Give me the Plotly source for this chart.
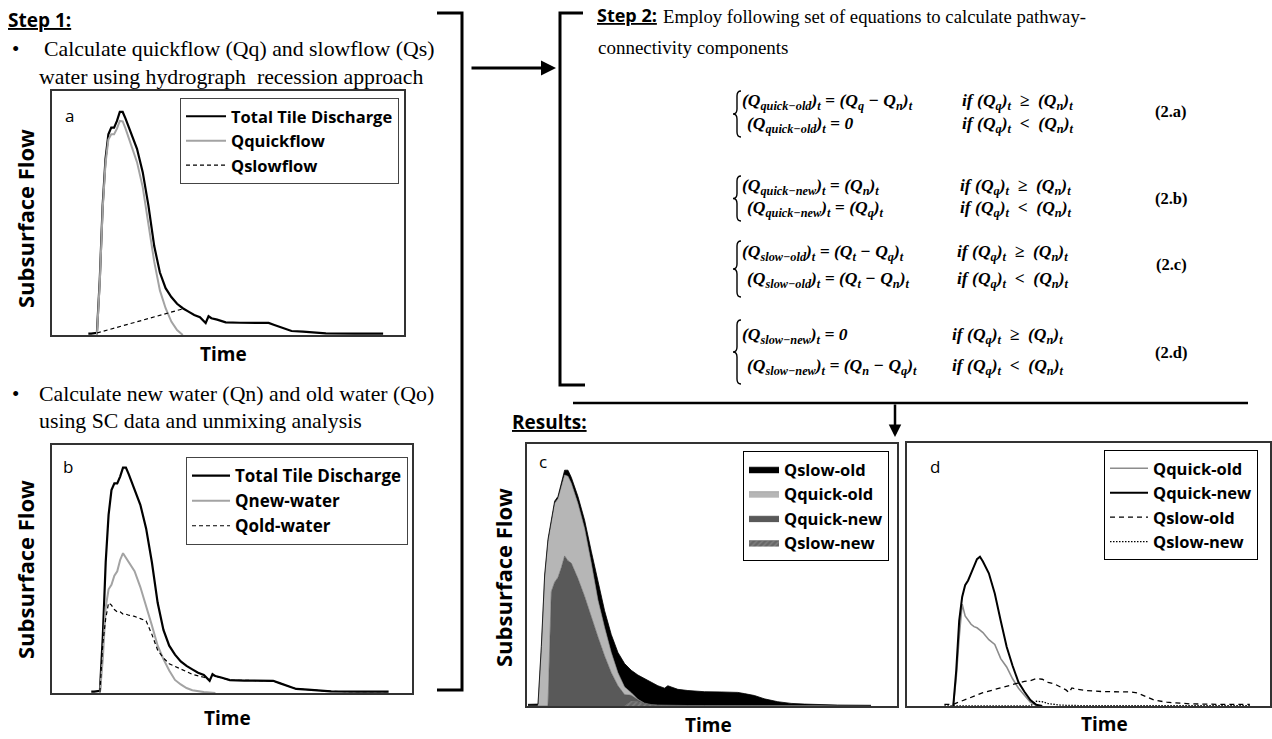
import plotly.graph_objects as go

W, H = 1272, 739

# ---------------- data (time in hours from start of event, flow relative to peak) ----------------
T = [-3, -2, 0, 1, 2, 3, 4, 5, 6, 7, 8, 9, 10, 12, 14, 16, 18, 20, 22, 24, 26, 28, 30, 32,
     34, 36, 38, 39, 40, 42, 45, 50, 55, 60, 62, 65, 68, 72, 76, 80, 90, 100]

total_flow = [0.006, 0.006, 0.01, 0.25, 0.58, 0.79, 0.90, 0.93, 0.93, 0.96,
              1.0, 1.0, 0.97, 0.90, 0.835, 0.73, 0.58, 0.40, 0.28, 0.21,
              0.17, 0.14, 0.12, 0.105, 0.09, 0.08, 0.054, 0.084, 0.075, 0.069,
              0.057, 0.055, 0.054, 0.054, 0.045, 0.031, 0.018, 0.015, 0.01, 0.007,
              0.006, 0.006]

quickflow = [None, None, 0.0, 0.236, 0.563, 0.77, 0.876, 0.90, 0.90, 0.925,
             0.96, 0.958, 0.925, 0.848, 0.775, 0.663, 0.506, 0.33, 0.20, 0.12,
             0.06, 0.022, 0.0] + [None] * 19

slowflow_t = [0, 30]
slowflow = [0.009, 0.117]

new_water = [None, None, 0.0, 0.15, 0.38, 0.46, 0.48, 0.52, 0.54, 0.59,
             0.62, 0.60, 0.585, 0.54, 0.47, 0.39, 0.30, 0.21, 0.15, 0.10,
             0.058, 0.038, 0.022, 0.012, 0.007, 0.004, 0.002, 0.001, 0.0] + [None] * 13

old_water = [None, None, 0.005, 0.22, 0.33, 0.40, 0.39, 0.37, 0.36, 0.36,
             0.35, 0.35, 0.345, 0.34, 0.33, 0.32, 0.26, 0.19, 0.155, 0.13,
             0.118, 0.108, 0.095, 0.083, 0.077, 0.07, 0.056, 0.08, 0.072, 0.068,
             0.057, 0.055, 0.054, 0.054, 0.045, 0.031, 0.018, 0.015, 0.01, 0.007,
             0.006, 0.006]

slow_new = [0, 0, 0, 0, 0, 0, 0, 0, 0, 0,
            0, 0, 0, 0, 0, 0, 0, 0, 0, 0,
            0, 0.02, 0.018, 0.01, 0.006, 0.004, 0.003, 0.002, 0.002, 0.002,
            0.002, 0.002, 0.002, 0.002, 0.002, 0.002, 0.002, 0.002, 0.002, 0.002,
            0.002, 0.002]

quick_new_c = [0, 0, 0, 0, 0, 0, 0.48, 0.52, 0.54, 0.58,
               0.63, 0.61, 0.60, 0.535, 0.46, 0.37, 0.29, 0.21, 0.14, 0.085,
               0.048, 0.025, 0.008, 0.002] + [0] * 18

quick_old_c = [0, 0, 0, 0.24, 0.54, 0.69, 0.29, 0.33, 0.33, 0.345,
               0.34, 0.355, 0.335, 0.315, 0.285, 0.23, 0.155, 0.12, 0.085, 0.055,
               0.032, 0.011, 0.002] + [0] * 19

slow_old_c = [0.007, 0.007, 0.008, 0.01, 0.01, 0.01, 0.01, 0.01, 0.01, 0.015,
              0.02, 0.025, 0.025, 0.03, 0.035, 0.05, 0.075, 0.07, 0.075, 0.085,
              0.098, 0.094, 0.102, 0.103, 0.091, 0.081, 0.072, 0.083, 0.078, 0.068,
              0.063, 0.058, 0.057, 0.055, 0.05, 0.042, 0.028, 0.016, 0.009, 0.006,
              0.002, 0.001]

quick_old_d = [None, None, 0.0, 0.12, 0.29, 0.43, 0.38, 0.36, 0.345, 0.335,
               0.33, 0.32, 0.31, 0.28, 0.26, 0.20, 0.165, 0.115, 0.075, 0.045,
               0.016, 0.002] + [None] * 20

quick_new_d = [None, None, 0.0, 0.15, 0.36, 0.46, 0.51, 0.53, 0.56, 0.59,
               0.62, 0.63, 0.61, 0.56, 0.475, 0.36, 0.25, 0.17, 0.10, 0.06,
               0.025, 0.005, 0.0] + [None] * 19

slow_old_d = [0.007, 0.007, 0.007, 0.012, 0.017, 0.022, 0.027, 0.033, 0.038, 0.043,
              0.048, 0.052, 0.056, 0.063, 0.07, 0.077, 0.085, 0.092, 0.098, 0.104,
              0.107, 0.116, 0.113, 0.10, 0.094, 0.08, 0.068, 0.057, 0.076, 0.07,
              0.065, 0.061, 0.06, 0.059, 0.055, 0.04, 0.024, 0.016, 0.012, 0.009,
              0.007, 0.007]

# ---------------- helpers ----------------
def px(x):
    return x / W


def py(y):
    return 1 - y / H


def P(x, y):
    return f"{px(x):.5f},{py(y):.5f}"


SANS = "Open Sans"
SERIF = "Liberation Serif"

fig = go.Figure()

# ---- panel a
fig.add_trace(go.Scatter(x=T, y=total_flow, name="Total Tile Discharge", mode="lines",
                         line=dict(color="black", width=2.2), xaxis="x", yaxis="y", legend="legend"))
fig.add_trace(go.Scatter(x=T, y=quickflow, name="Qquickflow", mode="lines",
                         line=dict(color="#a3a3a3", width=2), xaxis="x", yaxis="y", legend="legend"))
fig.add_trace(go.Scatter(x=slowflow_t, y=slowflow, name="Qslowflow", mode="lines",
                         line=dict(color="black", width=1.2, dash="4px,3px"), xaxis="x", yaxis="y",
                         legend="legend"))

# ---- panel b
fig.add_trace(go.Scatter(x=T, y=total_flow, name="Total Tile Discharge", mode="lines",
                         line=dict(color="black", width=2.2), xaxis="x2", yaxis="y2", legend="legend2"))
fig.add_trace(go.Scatter(x=T, y=new_water, name="Qnew-water", mode="lines",
                         line=dict(color="#a3a3a3", width=2), xaxis="x2", yaxis="y2", legend="legend2"))
fig.add_trace(go.Scatter(x=T, y=old_water, name="Qold-water", mode="lines",
                         line=dict(color="black", width=1.2, dash="4px,3px"), xaxis="x2", yaxis="y2",
                         legend="legend2"))

# ---- panel c (stacked areas)
fig.add_trace(go.Scatter(x=T, y=slow_new, name="Qslow-new", mode="lines", stackgroup="c",
                         line=dict(color="#555555", width=0.5), fillcolor="#6b6b6b",
                         fillpattern=dict(shape="/", fgcolor="#9c9c9c", bgcolor="#666666", size=4, solidity=0.35),
                         xaxis="x3", yaxis="y3", legend="legend3"))
fig.add_trace(go.Scatter(x=T, y=quick_new_c, name="Qquick-new", mode="lines", stackgroup="c",
                         line=dict(color="#4a4a4a", width=0.5), fillcolor="#595959",
                         xaxis="x3", yaxis="y3", legend="legend3"))
fig.add_trace(go.Scatter(x=T, y=quick_old_c, name="Qquick-old", mode="lines", stackgroup="c",
                         line=dict(color="#8a8a8a", width=0.6), fillcolor="#b6b6b6",
                         xaxis="x3", yaxis="y3", legend="legend3"))
fig.add_trace(go.Scatter(x=T, y=slow_old_c, name="Qslow-old", mode="lines", stackgroup="c",
                         line=dict(color="black", width=0.8), fillcolor="black",
                         xaxis="x3", yaxis="y3", legend="legend3"))

# ---- panel d
fig.add_trace(go.Scatter(x=T, y=quick_old_d, name="Qquick-old", mode="lines",
                         line=dict(color="#8c8c8c", width=1.6), xaxis="x4", yaxis="y4", legend="legend4"))
fig.add_trace(go.Scatter(x=T, y=quick_new_d, name="Qquick-new", mode="lines",
                         line=dict(color="black", width=2), xaxis="x4", yaxis="y4", legend="legend4"))
fig.add_trace(go.Scatter(x=T, y=slow_old_d, name="Qslow-old", mode="lines",
                         line=dict(color="black", width=1.3, dash="5px,4px"), xaxis="x4", yaxis="y4",
                         legend="legend4"))
fig.add_trace(go.Scatter(x=T, y=slow_new, name="Qslow-new", mode="lines",
                         line=dict(color="black", width=1.3, dash="1.5px,1.5px"), xaxis="x4", yaxis="y4",
                         legend="legend4"))


def axis(dom, rng, anchor):
    return dict(domain=dom, range=rng, anchor=anchor, showline=True, mirror=True,
                linecolor="#333333", linewidth=1.6, showgrid=False, zeroline=False,
                showticklabels=False, ticks="", fixedrange=True)


def legend(x, y, size, itemwidth, order="normal", border="#444444"):
    return dict(x=px(x), y=py(y), xanchor="left", yanchor="top", bgcolor="white",
                bordercolor=border, borderwidth=1, traceorder=order, itemwidth=itemwidth,
                font=dict(family=SANS, size=size, color="black", weight="bold"))


layout = dict(
    width=W, height=H, autosize=False,
    margin=dict(l=0, r=0, t=0, b=0),
    paper_bgcolor="white", plot_bgcolor="white",
    showlegend=True,
    xaxis=axis([px(52), px(404)], [-15.7, 107.3], "y"),
    yaxis=axis([py(335), py(91)], [0, 1.094], "x"),
    xaxis2=axis([px(52), px(412)], [-16.6, 108.1], "y2"),
    yaxis2=axis([py(693), py(445)], [0, 1.10], "x2"),
    xaxis3=axis([px(527), px(897)], [-3.3, 107.8], "y3"),
    yaxis3=axis([py(706), py(444)], [0, 1.10], "x3"),
    xaxis4=axis([px(907), px(1270)], [-15.6, 106.8], "y4"),
    yaxis4=axis([py(706), py(443)], [0, 1.11], "x4"),
    legend=legend(180, 98, 16.5, 40),
    legend2=legend(186, 457, 17, 38),
    legend3=legend(743, 451, 16.5, 30, "reversed", "black"),
    legend4=legend(1104, 450, 16.5, 38, "normal", "black"),
)
fig.update_layout(**layout)

# ---------------- text ----------------
anns = []


def txt(text, x, y, size, family, xanchor="left", yanchor="middle", angle=0, color="black"):
    anns.append(dict(text=text, x=px(x), y=py(y), xref="paper", yref="paper", showarrow=False,
                     xanchor=xanchor, yanchor=yanchor, textangle=angle,
                     font=dict(size=size, family=family, color=color)))


txt("<b><u>Step 1:</u></b>", 6, 20, 19, SANS)
txt("•", 10, 49, 21, SERIF)
txt("Calculate quickflow (Qq) and slowflow (Qs)", 42, 49, 21.8, SERIF)
txt("water using hydrograph  recession approach", 37, 77, 21.8, SERIF)
txt("•", 10, 394, 21, SERIF)
txt("Calculate new water (Qn) and old water (Qo)", 37, 394, 21.8, SERIF)
txt("using SC data and unmixing analysis", 37, 421, 21.8, SERIF)

txt("<b><u>Step 2:</u></b>", 595, 15, 18, SANS)
txt("Employ following set of equations to calculate pathway-", 661, 16, 18.7, SERIF)
txt("connectivity components", 596, 47, 19, SERIF)
txt("<b><u>Results:</u></b>", 510, 422, 19, SANS)

# panel labels and axis titles
txt("a", 69, 115, 17, SANS, "center")
txt("b", 68, 466, 17, SANS, "center")
txt("c", 543, 461, 17, SANS, "center")
txt("d", 935, 466, 17, SANS, "center")
for (x, y) in [(223, 354), (228, 718), (708, 725), (1104, 724)]:
    txt("<b>Time</b>", x, y, 19, SANS, "center")
for (x, y) in [(25, 219), (25, 570), (503, 578)]:
    txt("<b>Subsurface Flow</b>", x, y, 22, SANS, "center", angle=-90)

# equations
NB = "\u00a0"
condGE = f"if (Q<sub>q</sub>)<sub>t</sub>{NB} ≥{NB} (Q<sub>n</sub>)<sub>t</sub>"
condLT = f"if (Q<sub>q</sub>)<sub>t</sub>{NB} &lt;{NB} (Q<sub>n</sub>)<sub>t</sub>"
equations = [
    ("(Q<sub>quick−old</sub>)<sub>t</sub> = (Q<sub>q</sub> − Q<sub>n</sub>)<sub>t</sub>",
     "(Q<sub>quick−old</sub>)<sub>t</sub> = 0", "(2.a)", 101, 124, 960, 112, 91, 137),
    ("(Q<sub>quick−new</sub>)<sub>t</sub> = (Q<sub>n</sub>)<sub>t</sub>",
     "(Q<sub>quick−new</sub>)<sub>t</sub> = (Q<sub>q</sub>)<sub>t</sub>", "(2.b)", 186, 209, 958, 198, 176, 221),
    ("(Q<sub>slow−old</sub>)<sub>t</sub> = (Q<sub>t</sub> − Q<sub>q</sub>)<sub>t</sub>",
     "(Q<sub>slow−old</sub>)<sub>t</sub> = (Q<sub>t</sub> − Q<sub>n</sub>)<sub>t</sub>", "(2.c)", 253, 279, 955, 264, 241, 297),
    ("(Q<sub>slow−new</sub>)<sub>t</sub> = 0",
     "(Q<sub>slow−new</sub>)<sub>t</sub> = (Q<sub>n</sub> − Q<sub>q</sub>)<sub>t</sub>", "(2.d)", 335, 366, 950, 352, 320, 384),
]
shapes = []
for l1, l2, lab, y1, y2, xc, yl, b0, b1 in equations:
    txt("<b><i>" + l1 + "</i></b>", 740, y1, 17.5, SERIF)
    txt("<b><i>" + l2 + "</i></b>", 745, y2, 17.5, SERIF)
    txt("<b><i>" + condGE + "</i></b>", xc, y1, 17.5, SERIF)
    txt("<b><i>" + condLT + "</i></b>", xc, y2, 17.5, SERIF)
    txt("<b>" + lab + "</b>", 1171, yl, 16.5, SERIF, "center")
    # curly brace
    xl, xm, xr, r = 733, 737, 741, 5
    mid = (b0 + b1) / 2
    path = (f"M {P(xr, b0)} Q {P(xm, b0)} {P(xm, b0 + r)} L {P(xm, mid - r)} "
            f"Q {P(xm, mid)} {P(xl, mid)} Q {P(xm, mid)} {P(xm, mid + r)} "
            f"L {P(xm, b1 - r)} Q {P(xm, b1)} {P(xr, b1)}")
    shapes.append(dict(type="path", path=path, xref="paper", yref="paper",
                       line=dict(color="black", width=1.4)))

# brackets and connector lines
shapes.append(dict(type="path", xref="paper", yref="paper", line=dict(color="black", width=3),
                   path=f"M {P(437, 13)} L {P(462, 13)} L {P(462, 690)} L {P(437, 690)}"))
shapes.append(dict(type="path", xref="paper", yref="paper", line=dict(color="black", width=3),
                   path=f"M {P(583, 13)} L {P(560, 13)} L {P(560, 385)} L {P(585, 385)}"))
shapes.append(dict(type="path", xref="paper", yref="paper", line=dict(color="black", width=2.5),
                   path=f"M {P(573, 403)} L {P(1248, 403)}"))

# arrows
anns.append(dict(x=px(556), y=py(68), xref="paper", yref="paper", ax=-86, ay=0, text="",
                 showarrow=True, arrowhead=2, arrowsize=1, arrowwidth=3, arrowcolor="black"))
anns.append(dict(x=px(895), y=py(437), xref="paper", yref="paper", ax=0, ay=-34, text="",
                 showarrow=True, arrowhead=2, arrowsize=1, arrowwidth=2.5, arrowcolor="black"))

fig.update_layout(annotations=anns, shapes=shapes)
fig.write_html("out.html", config={"displayModeBar": False},
               post_script="document.body.style.margin='0px';")
